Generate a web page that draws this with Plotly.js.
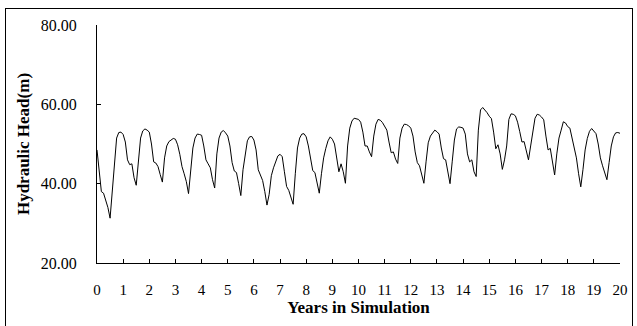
<!DOCTYPE html>
<html>
<head>
<meta charset="utf-8">
<script src="https://cdn.plot.ly/plotly-3.0.1.min.js"></script>
<style>
html, body { margin: 0; padding: 0; background: #fff; }
#wrap { position: relative; width: 637px; height: 326px; overflow: hidden; }
#chart { width: 637px; height: 326px; }
#frame { position: absolute; left: 5px; top: 8px; width: 626px; height: 340px; border: 1px solid #000; pointer-events: none; }
</style>
</head>
<body>
<div id="wrap"><div id="chart"></div><div id="frame"></div></div>
<script>
// Monthly simulated hydraulic head (m), years 0..20
const stepsPerYear = 12;
const headY0  = [48.5, 43.5, 38.0, 37.6, 36.0, 34.0, 31.3, 38.5, 46.0, 51.5, 52.9, 53.0];
const headY1  = [52.4, 50.5, 46.0, 44.8, 45.0, 41.5, 39.6, 46.5, 51.5, 53.3, 53.8, 53.5];
const headY2  = [53.0, 50.0, 45.5, 45.2, 44.3, 42.3, 40.4, 46.5, 49.5, 50.6, 51.1, 51.4];
const headY3  = [51.2, 49.8, 47.4, 44.3, 42.5, 40.5, 37.5, 44.0, 49.0, 51.5, 52.5, 52.4];
const headY4  = [52.2, 49.5, 46.0, 45.0, 44.0, 41.0, 38.9, 47.5, 51.5, 53.0, 53.4, 52.8];
const headY5  = [52.0, 49.5, 45.3, 43.2, 42.8, 40.0, 37.0, 43.5, 47.7, 50.8, 51.8, 51.9];
const headY6  = [51.0, 48.5, 43.5, 42.2, 40.8, 38.0, 34.6, 37.3, 42.0, 44.0, 45.8, 47.0];
const headY7  = [47.4, 46.8, 43.0, 39.3, 38.3, 36.5, 34.8, 42.5, 49.0, 51.5, 52.5, 52.6];
const headY8  = [51.8, 49.5, 46.8, 43.3, 42.8, 40.0, 37.6, 42.5, 46.5, 48.9, 50.8, 51.8];
const headY9  = [51.2, 50.0, 46.5, 43.0, 45.0, 43.0, 40.1, 49.5, 54.0, 55.8, 56.5, 56.4];
const headY10 = [56.2, 55.5, 53.0, 49.5, 49.5, 48.0, 46.8, 52.0, 55.0, 56.2, 56.0, 55.4];
const headY11 = [54.6, 53.5, 50.5, 47.8, 48.0, 46.2, 45.1, 51.5, 54.0, 55.0, 54.9, 54.6];
const headY12 = [54.0, 52.0, 48.0, 45.3, 44.5, 42.3, 40.1, 45.5, 50.3, 52.0, 52.9, 53.5];
const headY13 = [53.1, 52.5, 49.0, 46.3, 46.0, 43.0, 40.0, 45.5, 51.0, 53.8, 54.3, 54.2];
const headY14 = [54.0, 52.5, 47.5, 45.5, 46.0, 43.0, 41.8, 53.5, 58.6, 59.2, 58.6, 57.9];
const headY15 = [57.0, 56.4, 53.0, 48.8, 49.8, 47.5, 43.6, 46.0, 49.5, 56.2, 57.6, 57.5];
const headY16 = [57.1, 55.5, 53.1, 50.5, 50.6, 48.0, 46.0, 49.5, 53.5, 56.5, 57.5, 57.3];
const headY17 = [56.8, 56.1, 52.0, 48.5, 48.9, 45.5, 42.2, 47.5, 51.5, 53.5, 55.6, 55.3];
const headY18 = [54.4, 54.0, 51.5, 49.0, 46.5, 42.5, 39.2, 43.5, 48.5, 51.4, 53.2, 53.9];
const headY19 = [53.3, 52.6, 50.0, 46.5, 44.5, 43.0, 41.0, 45.3, 49.5, 51.8, 52.8, 52.9];
const headEnd = [52.7];

const xTickVals = [0,1,2,3,4,5,6,7,8,9,10,11,12,13,14,15,16,17,18,19,20];
const yTickVals = [20, 40, 60, 80];

const head = [].concat(headY0, headY1, headY2, headY3, headY4, headY5, headY6, headY7,
  headY8, headY9, headY10, headY11, headY12, headY13, headY14, headY15, headY16,
  headY17, headY18, headY19, headEnd);
const years = head.map((_, i) => i / stepsPerYear);

const serif = "'Liberation Serif', 'Times New Roman', serif";

Plotly.newPlot('chart', [{
  x: years, y: head, type: 'scatter', mode: 'lines',
  line: { color: '#000', width: 1 }, hoverinfo: 'skip'
}], {
  width: 637, height: 326,
  margin: { l: 97, r: 17, t: 25, b: 63 },
  paper_bgcolor: '#fff', plot_bgcolor: '#fff',
  showlegend: false,
  font: { family: serif, color: '#000' },
  xaxis: {
    range: [0, 20], tickvals: xTickVals, ticktext: xTickVals.map(String),
    showgrid: false, zeroline: false, showline: true, linecolor: '#000', linewidth: 1,
    ticks: 'inside', ticklen: 4, tickcolor: '#000', tickwidth: 1,
    tickfont: { family: serif, size: 15, color: '#000' },
    ticklabelstandoff: 13,
    title: { text: '<b>Years in Simulation</b>', font: { family: serif, size: 17, color: '#000' }, standoff: 3 }
  },
  yaxis: {
    range: [20, 80], tickvals: yTickVals, tickformat: '.2f',
    showgrid: false, zeroline: false, showline: true, linecolor: '#000', linewidth: 1,
    ticks: 'inside', ticklen: 4, tickcolor: '#000', tickwidth: 1,
    tickfont: { family: serif, size: 16, color: '#000' },
    ticklabelstandoff: 16,
    title: { text: '<b>Hydraulic Head(m)</b>', font: { family: serif, size: 17, color: '#000' }, standoff: 6 }
  }
}, { staticPlot: true });
</script>
</body>
</html>
